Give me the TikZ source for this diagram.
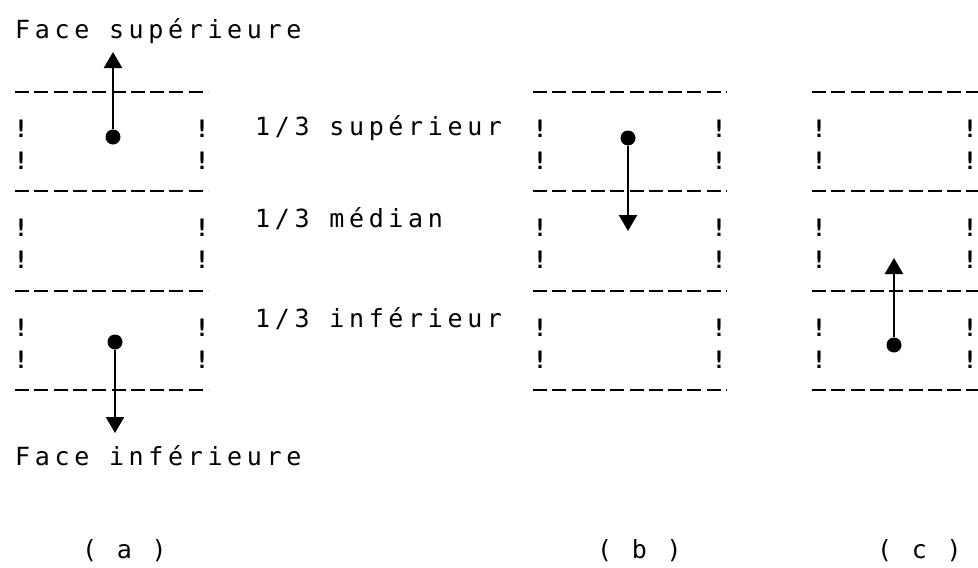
\documentclass[tikz,border=0pt]{standalone}
\usepackage{fontspec}
\setmonofont[LetterSpace=18.6]{DejaVu Sans Mono}
\usetikzlibrary{positioning,arrows.meta}

\begin{document}
\begin{tikzpicture}[
x=1pt,y=-1pt,
txt/.style={
    font=\ttfamily\fontsize{25}{30}\selectfont,
    anchor=base west,
    inner sep=0pt
},
bang/.style={
    font=\ttfamily\bfseries\fontsize{24}{30}\selectfont,
    anchor=base,
    inner sep=0pt
},
rule/.style={
    line width=2.8pt,
    dash pattern=on 14pt off 5.3pt
},
dot/.style={
    circle,
    fill=black,
    inner sep=0pt,
    minimum size=15pt
},
move/.style={
    -{Triangle[length=16pt,width=18pt]},
    line width=2.4pt
}
]
\useasboundingbox (0,0) rectangle (978,568);

% Texts
\node[txt] (top) at (15,38) {Face supérieure};
\node[txt] (bottom) at (15,465) {Face inférieure};
\node[txt] (sup) at (255,135) {1/3 supérieur};
\node[txt] (med) at (255,227) {1/3 médian};
\node[txt] (inf) at (255,327) {1/3 inférieur};

% Panels
\foreach \xa/\xb/\la/\lb in {15/208/21/202, 533/727/540/719, 812/978/819/970}{
    \foreach \y in {92,191,291,390}
        \draw[rule] (\xa,\y) -- (\xb,\y);
    \foreach \y in {92,191,291}{
        \node[bang] at (\la,\y+45) {!};
        \node[bang] at (\la,\y+77) {!};
        \node[bang] at (\lb,\y+45) {!};
        \node[bang] at (\lb,\y+77) {!};
    }
}

% Displacements
\node[dot] (a1) at (113,137) {};
\coordinate (a1end) at (113,52);
\draw[move] (a1) -- (a1end);

\node[dot] (a2) at (115,342) {};
\coordinate (a2end) at (115,433);
\draw[move] (a2) -- (a2end);

\node[dot] (b1) at (628,138) {};
\coordinate (b1end) at (628,231);
\draw[move] (b1) -- (b1end);

\node[dot] (c1) at (894,345) {};
\coordinate (c1end) at (894,258);
\draw[move] (c1) -- (c1end);

% Captions
\node[txt] (capa) at (82,558) {( a )};
\node[txt] (capb) at (597,558) {( b )};
\node[txt] (capc) at (877,558) {( c )};

\end{tikzpicture}
\end{document}
